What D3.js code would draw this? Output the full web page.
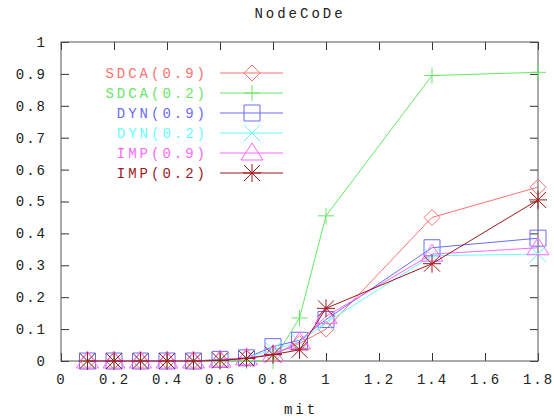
<!DOCTYPE html>
<html lang="en">
<head>
    <meta charset="UTF-8">
    <title>NodeCoDe</title>
    <script src="https://d3js.org/d3.v7.min.js"></script>
    <style>
        body { margin: 0; background: white; }
        svg text {
            font-family: "Liberation Mono", "DejaVu Sans Mono", monospace;
            font-size: 14px;
            letter-spacing: 3px;
        }
        svg .tick text { letter-spacing: 2px; }
    </style>
</head>
<body>
<svg id="chart" width="554" height="420"></svg>
<script>
    // data
    let mit = [0.1, 0.2, 0.3, 0.4, 0.5, 0.6, 0.7, 0.8, 0.9, 1.0, 1.4, 1.8];
    let sdca09 = [0, 0, 0, 0, 0, 0.002, 0.008, 0.02, 0.055, 0.10, 0.45, 0.545];
    let sdca02 = [0, 0, 0, 0, 0, 0, 0, 0, 0.135, 0.455, 0.895, 0.905];
    let dyn09 = [0, 0, 0, 0, 0, 0.005, 0.01, 0.045, 0.065, 0.13, 0.355, 0.385];
    let dyn02 = [0, 0, 0, 0, 0, 0.003, 0.01, 0.035, 0.06, 0.12, 0.33, 0.335];
    let imp09 = [0, 0, 0, 0, 0, 0.003, 0.01, 0.02, 0.06, 0.14, 0.335, 0.355];
    let imp02 = [0, 0, 0, 0, 0, 0.002, 0.008, 0.02, 0.035, 0.165, 0.305, 0.505];
    let seriesNames = ["SDCA(0.9)", "SDCA(0.2)", "DYN(0.9)", "DYN(0.2)", "IMP(0.9)", "IMP(0.2)"];
    let seriesValues = [sdca09, sdca02, dyn09, dyn02, imp09, imp02];
    let xTicks = [0, 0.2, 0.4, 0.6, 0.8, 1, 1.2, 1.4, 1.6, 1.8];
    let yTicks = [0, 0.1, 0.2, 0.3, 0.4, 0.5, 0.6, 0.7, 0.8, 0.9, 1];

    let colors = ["#ff7070", "#66e866", "#6a6aff", "#66ffff", "#ff66ff", "#a01818"];
    let markers = ["diamond", "plus", "square", "cross", "triangle", "star"];

    let svg = d3.select('#chart');
    let pLeft = 61, pRight = 538, pTop = 42, pBottom = 361;

    let x = d3.scaleLinear().domain([0, 1.8]).range([pLeft, pRight]);
    let y = d3.scaleLinear().domain([0, 1]).range([pBottom, pTop]);

    svg.append('text')
        .attr("x", 300).attr("y", 18)
        .attr("text-anchor", "middle")
        .attr("fill", "#222")
        .text("NodeCoDe");

    // axes with inward ticks on all four sides
    let tick = 8;
    let axisBottom = d3.axisBottom(x).tickValues(xTicks).tickSize(-tick).tickPadding(13)
        .tickFormat(d3.format("~g"));
    let axisTop = d3.axisTop(x).tickValues(xTicks).tickSize(-tick).tickFormat("");
    let axisLeft = d3.axisLeft(y).tickValues(yTicks).tickSize(-tick).tickPadding(14)
        .tickFormat(d3.format("~g"));
    let axisRight = d3.axisRight(y).tickValues(yTicks).tickSize(-tick).tickFormat("");

    let gb = svg.append('g').attr("transform", "translate(0," + pBottom + ")").call(axisBottom);
    let gt = svg.append('g').attr("transform", "translate(0," + pTop + ")").call(axisTop);
    let gl = svg.append('g').attr("transform", "translate(" + pLeft + ",0)").call(axisLeft);
    let gr = svg.append('g').attr("transform", "translate(" + pRight + ",0)").call(axisRight);
    [gb, gt, gl, gr].forEach(function (g) {
        g.select('.domain').remove();
        g.selectAll('.tick line').attr("stroke", "#333");
        g.selectAll('.tick text').attr("fill", "#222").style("font-size", "14px")
            .attr("font-family", null);
    });
    svg.append('rect')
        .attr("x", pLeft).attr("y", pTop)
        .attr("width", pRight - pLeft).attr("height", pBottom - pTop)
        .attr("fill", "none").attr("stroke", "#555");

    svg.append('text')
        .attr("x", 301).attr("y", 414)
        .attr("text-anchor", "middle")
        .attr("fill", "#222")
        .text("mit");

    function markerPath(type, cx, cy) {
        let p = d3.path();
        if (type === "diamond") {
            p.moveTo(cx, cy - 8); p.lineTo(cx + 8, cy); p.lineTo(cx, cy + 8); p.lineTo(cx - 8, cy); p.closePath();
        } else if (type === "plus") {
            p.moveTo(cx - 8, cy); p.lineTo(cx + 8, cy); p.moveTo(cx, cy - 8); p.lineTo(cx, cy + 8);
        } else if (type === "square") {
            p.rect(cx - 8, cy - 8, 16, 16);
        } else if (type === "cross") {
            p.moveTo(cx - 8, cy - 8); p.lineTo(cx + 8, cy + 8); p.moveTo(cx - 8, cy + 8); p.lineTo(cx + 8, cy - 8);
        } else if (type === "triangle") {
            p.moveTo(cx, cy - 10); p.lineTo(cx + 11, cy + 7); p.lineTo(cx - 11, cy + 7); p.closePath();
        } else if (type === "star") {
            p.moveTo(cx - 9, cy); p.lineTo(cx + 9, cy); p.moveTo(cx, cy - 9); p.lineTo(cx, cy + 9);
            p.moveTo(cx - 8, cy - 8); p.lineTo(cx + 8, cy + 8); p.moveTo(cx - 8, cy + 8); p.lineTo(cx + 8, cy - 8);
        }
        return p.toString();
    }

    let line = d3.line().x(function (d) { return x(d[0]); }).y(function (d) { return y(d[1]); });

    seriesValues.forEach(function (vals, i) {
        let pts = mit.map(function (m, j) { return [m, vals[j]]; });
        let g = svg.append('g');
        g.append('path')
            .attr("d", line(pts))
            .attr("fill", "none")
            .attr("stroke", colors[i])
            .attr("stroke-width", 1);
        g.selectAll('path.mk')
            .data(pts)
            .enter()
            .append('path')
            .attr("class", "mk")
            .attr("d", function (d) { return markerPath(markers[i], x(d[0]), y(d[1])); })
            .attr("fill", "none")
            .attr("stroke", colors[i])
            .attr("stroke-width", 1);

        // legend row
        let ly = 73 + i * 20;
        svg.append('text')
            .attr("x", 208).attr("y", ly + 5)
            .attr("text-anchor", "end")
            .attr("fill", colors[i])
            .text(seriesNames[i]);
        svg.append('line')
            .attr("x1", 220).attr("x2", 283)
            .attr("y1", ly).attr("y2", ly)
            .attr("stroke", colors[i]);
        svg.append('path')
            .attr("d", markerPath(markers[i], 252, ly))
            .attr("fill", "none")
            .attr("stroke", colors[i]);
    });
</script>
</body>
</html>
